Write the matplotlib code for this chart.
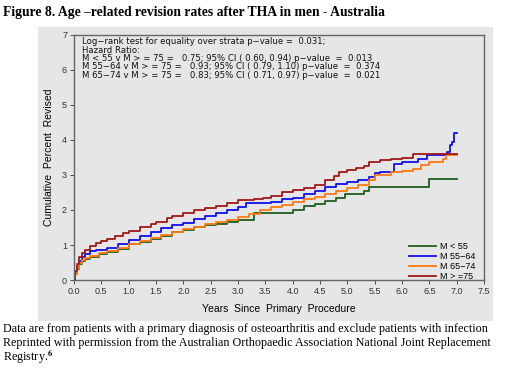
import matplotlib
matplotlib.use('Agg')
import matplotlib.pyplot as plt
from matplotlib.patches import Rectangle

plt.rcParams['font.family'] = ['Liberation Sans', 'DejaVu Sans']
plt.rcParams['mathtext.fontset'] = 'stix'

# cumulative percent revised (Kaplan-Meier steps)
t_lt55 = [0, 0.02, 0.05, 0.1, 0.15, 0.2, 0.3, 0.45, 0.6, 0.8, 1.0, 1.2, 1.4, 1.6, 1.8, 2.0, 2.2,
          2.4, 2.6, 2.8, 3.0, 3.1, 3.3, 3.6, 3.9, 4.0, 4.2, 4.4, 4.6, 4.8, 4.95, 5.1, 5.3, 5.4, 6.5, 7.0]
v_lt55 = [0, 0.17, 0.32, 0.46, 0.54, 0.60, 0.66, 0.73, 0.79, 0.88, 1.02, 1.10, 1.18, 1.27, 1.36, 1.43, 1.52,
          1.58, 1.60, 1.65, 1.70, 1.72, 1.90, 1.90, 1.90, 2.00, 2.10, 2.17, 2.26, 2.35, 2.45, 2.47, 2.55, 2.65, 2.88, 2.88]

t_55_64 = [0, 0.02, 0.05, 0.1, 0.15, 0.2, 0.3, 0.4, 0.6, 0.8, 1.0, 1.2, 1.4, 1.6, 1.8, 2.0, 2.2, 2.4,
           2.6, 2.8, 3.0, 3.15, 3.4, 3.6, 3.8, 4.0, 4.2, 4.4, 4.6, 4.8, 5.0, 5.2, 5.4, 5.5, 5.6, 5.85,
           6.0, 6.3, 6.45, 6.82, 6.87, 6.92, 6.95, 7.0]
v_55_64 = [0, 0.2, 0.37, 0.55, 0.66, 0.74, 0.82, 0.85, 0.92, 1.03, 1.14, 1.25, 1.36, 1.48, 1.58, 1.63, 1.73, 1.84,
           1.92, 2.00, 2.08, 2.20, 2.20, 2.24, 2.30, 2.35, 2.45, 2.53, 2.66, 2.73, 2.80, 2.87, 2.93, 3.05, 3.09, 3.30,
           3.36, 3.45, 3.57, 3.67, 3.85, 3.95, 4.19, 4.19]

t_65_74 = [0, 0.02, 0.05, 0.1, 0.15, 0.2, 0.3, 0.45, 0.6, 0.8, 1.0, 1.2, 1.4, 1.6, 1.8, 2.0, 2.2, 2.4,
           2.6, 2.8, 3.0, 3.2, 3.4, 3.6, 3.8, 4.0, 4.2, 4.4, 4.6, 4.8, 5.0, 5.2, 5.4, 5.5, 5.8, 6.0,
           6.2, 6.35, 6.5, 6.75, 6.8, 7.0]
v_65_74 = [0, 0.18, 0.33, 0.48, 0.56, 0.62, 0.70, 0.77, 0.82, 0.92, 1.02, 1.12, 1.20, 1.28, 1.38, 1.46, 1.52, 1.59,
           1.65, 1.72, 1.79, 1.88, 2.00, 2.08, 2.14, 2.22, 2.30, 2.37, 2.45, 2.54, 2.62, 2.72, 2.85, 3.00, 3.08, 3.12,
           3.18, 3.28, 3.36, 3.47, 3.57, 3.57]

t_ge75 = [0, 0.02, 0.05, 0.1, 0.15, 0.2, 0.3, 0.4, 0.5, 0.6, 0.75, 0.9, 1.0, 1.2, 1.4, 1.5, 1.7, 1.8,
          2.0, 2.2, 2.4, 2.6, 2.8, 3.0, 3.3, 3.45, 3.6, 3.8, 4.0, 4.2, 4.4, 4.6, 4.75, 4.85, 5.0, 5.15,
          5.3, 5.4, 5.6, 5.8, 6.0, 6.2, 7.0]
v_ge75 = [0, 0.25, 0.45, 0.65, 0.78, 0.87, 0.97, 1.05, 1.12, 1.18, 1.27, 1.35, 1.40, 1.52, 1.61, 1.67, 1.77, 1.84,
          1.92, 2.00, 2.05, 2.11, 2.20, 2.29, 2.30, 2.35, 2.40, 2.50, 2.58, 2.64, 2.72, 2.85, 2.97, 3.08, 3.14, 3.19,
          3.25, 3.37, 3.42, 3.47, 3.49, 3.59, 3.59]

labels = ['M < 55', 'M 55\u221264', 'M 65\u221274', 'M > =75']
colors = ['#1e5e1e', '#1010f0', '#ff7a10', '#a01818']

stats_lines = [
    'Log\u2212rank test for equality over strata p\u2212value =  0.031;',
    'Hazard Ratio:',
    'M < 55 v M > = 75 =   0.75; 95% CI ( 0.60, 0.94) p\u2212value  =  0.013',
    'M 55\u221264 v M > = 75 =   0.93; 95% CI ( 0.79, 1.10) p\u2212value  =  0.374',
    'M 65\u221274 v M > = 75 =   0.83; 95% CI ( 0.71, 0.97) p\u2212value  =  0.021',
]

fig = plt.figure(figsize=(5.13, 3.79), dpi=100)
fig.patches.append(Rectangle((0.074, 0.153), 0.887, 0.776, transform=fig.transFigure,
                             facecolor='#e6e6e6', edgecolor='none', zorder=-5))

ax = fig.add_axes([0.1442, 0.2612, 0.7993, 0.6465])
ax.set_facecolor('#e6e6e6')

series = [(t_lt55, v_lt55), (t_55_64, v_55_64), (t_65_74, v_65_74), (t_ge75, v_ge75)]
for (t, v), lab, c in zip(series, labels, colors):
    ax.step(t, v, where='post', color=c, lw=1.3, label=lab)

ax.set_xlim(0, 7.5)
ax.set_ylim(0, 7)
ax.set_xticks([i * 0.5 for i in range(16)])
ax.set_xticklabels(['%.1f' % (i * 0.5) for i in range(16)])
ax.set_yticks(range(8))
ax.tick_params(labelsize=6.5, colors='#333333', length=3, width=0.6, pad=2)
for s in ax.spines.values():
    s.set_color('#666666')
    s.set_linewidth(1.0)

ax.set_xlabel('Years  Since  Primary  Procedure', fontsize=7.5, labelpad=6)
ax.set_ylabel('Cumulative  Percent  Revised', fontsize=7.5, labelpad=6)

for i, line in enumerate(stats_lines):
    ax.text(0.02, 0.972 - i * 0.034, line, transform=ax.transAxes, fontsize=6.1,
            family='DejaVu Sans', va='center', ha='left', color='#111111')

ax.legend(loc='lower right', bbox_to_anchor=(0.995, -0.03), frameon=False, fontsize=6.5,
          handlelength=3.0, labelspacing=0.1, handletextpad=0.5, borderpad=0.2)

fig.text(0.006, 0.985, 'Figure 8. Age \u2013related revision rates after THA in men - Australia',
         fontsize=9.8, fontweight='bold', family='Liberation Serif', va='top')
fig.text(0.006, 0.131, 'Data are from patients with a primary diagnosis of osteoarthritis and exclude patients with infection',
         fontsize=8.75, family='Liberation Serif', va='center')
fig.text(0.006, 0.096, 'Reprinted with permission from the Australian Orthopaedic Association National Joint Replacement',
         fontsize=8.75, family='Liberation Serif', va='center')
fig.text(0.006, 0.061, r'Registry.$^{\mathbf{6}}$',
         fontsize=8.75, family='Liberation Serif', va='center')

fig.savefig('out.png', dpi=100)
